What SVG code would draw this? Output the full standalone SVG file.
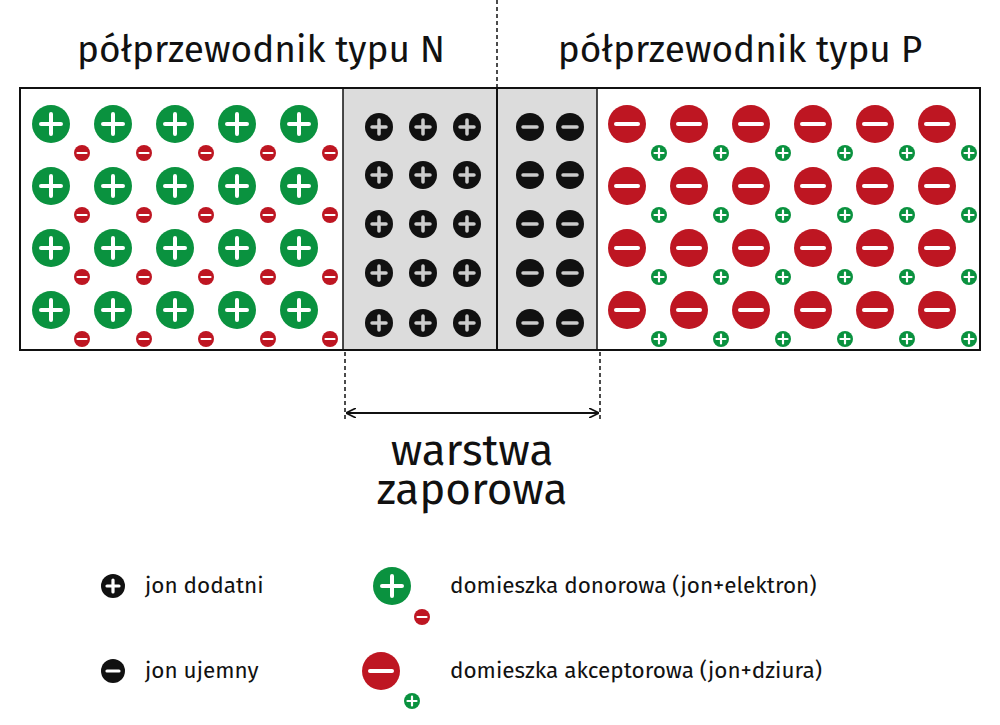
<svg xmlns="http://www.w3.org/2000/svg" xmlns:xlink="http://www.w3.org/1999/xlink" width="1000" height="725" viewBox="0 0 1000 725">
<style>
text{font-family:"Fira Sans","Noto Sans","Open Sans",sans-serif;fill:#111}
.t{font-size:37px}.w{font-size:44px}.l{font-size:22.5px}
.d{stroke:#111;stroke-width:1.5;stroke-dasharray:4 3;fill:none}
</style>
<defs>
<g id="gp"><circle r="19" fill="#0a923f"/><path d="M-10 0H10M0 -10V10" stroke="#fff" stroke-width="4" stroke-linecap="round"/></g>
<g id="rm"><circle r="19" fill="#be1622"/><path d="M-11 0H11" stroke="#fff" stroke-width="4" stroke-linecap="round"/></g>
<g id="sr"><circle r="8" fill="#be1622"/><path d="M-4.5 0H4.5" stroke="#fff" stroke-width="2.2" stroke-linecap="round"/></g>
<g id="sg"><circle r="8" fill="#0a923f"/><path d="M-4.5 0H4.5M0 -4.5V4.5" stroke="#fff" stroke-width="2.2" stroke-linecap="round"/></g>
<g id="bp"><circle r="14" fill="#111"/><path d="M-7 0H7M0 -7V7" stroke="#ccc" stroke-width="3.5" stroke-linecap="round"/></g>
<g id="bm"><circle r="14" fill="#111"/><path d="M-7 0H7" stroke="#ccc" stroke-width="3.5" stroke-linecap="round"/></g>
<g id="bpl"><circle r="12" fill="#111"/><path d="M-6 0H6M0 -6V6" stroke="#fff" stroke-width="3.2" stroke-linecap="round"/></g>
<g id="bml"><circle r="12" fill="#111"/><path d="M-6 0H6" stroke="#fff" stroke-width="3.2" stroke-linecap="round"/></g>
<g id="nrow"><use href="#gp" x="51"/><use href="#gp" x="113"/><use href="#gp" x="175"/><use href="#gp" x="237"/><use href="#gp" x="299"/>
<use href="#sr" x="82" y="29"/><use href="#sr" x="144" y="29"/><use href="#sr" x="206" y="29"/><use href="#sr" x="268" y="29"/><use href="#sr" x="330" y="29"/></g>
<g id="prow"><use href="#rm" x="627"/><use href="#rm" x="689"/><use href="#rm" x="751"/><use href="#rm" x="813"/><use href="#rm" x="875"/><use href="#rm" x="937"/>
<use href="#sg" x="659" y="29"/><use href="#sg" x="721" y="29"/><use href="#sg" x="783" y="29"/><use href="#sg" x="845" y="29"/><use href="#sg" x="907" y="29"/><use href="#sg" x="969" y="29"/></g>
<g id="jrow"><use href="#bp" x="379"/><use href="#bp" x="423"/><use href="#bp" x="467"/><use href="#bm" x="530"/><use href="#bm" x="570"/></g>
<marker id="ar" viewBox="0 0 10 10" refX="9" refY="5" markerWidth="10" markerHeight="10" markerUnits="userSpaceOnUse" orient="auto-start-reverse"><path d="M0 0L10 5L0 10" fill="none" stroke="#111" stroke-width="1.6"/></marker>
</defs>
<rect width="1000" height="725" fill="#fff"/>
<g id="titles">
<text class="t" x="261" y="62" text-anchor="middle">półprzewodnik typu N</text>
<text class="t" x="740" y="62" text-anchor="middle">półprzewodnik typu P</text>
</g>
<g id="zone"><rect x="343" y="88" width="254" height="262" fill="#dcdcdc"/></g>
<g id="n-region"><use href="#nrow" y="124"/><use href="#nrow" y="186"/><use href="#nrow" y="248"/><use href="#nrow" y="310"/></g>
<g id="p-region"><use href="#prow" y="124"/><use href="#prow" y="186"/><use href="#prow" y="248"/><use href="#prow" y="310"/></g>
<g id="ions"><use href="#jrow" y="127"/><use href="#jrow" y="175"/><use href="#jrow" y="224"/><use href="#jrow" y="273"/><use href="#jrow" y="323"/></g>
<g id="frame" fill="none" stroke="#111" stroke-width="2">
<rect x="20" y="88" width="960" height="262"/>
<path d="M343 88V350M597 88V350" stroke-width="1.5"/>
<path d="M497 88V350" stroke-width="2"/>
</g>
<g id="connectors">
<path class="d" d="M497 0V88"/>
<path class="d" d="M345 352V420M600 352V420"/>
<path d="M347 413H598" stroke="#111" stroke-width="2" fill="none" marker-start="url(#ar)" marker-end="url(#ar)"/>
</g>
<g id="label">
<text class="w" x="472" y="465" text-anchor="middle">warstwa</text>
<text class="w" x="472" y="504" text-anchor="middle">zaporowa</text>
</g>
<g id="legend">
<use href="#bpl" x="113" y="586"/><text class="l" x="145" y="593">jon dodatni</text>
<use href="#gp" x="392" y="586"/><use href="#sr" x="422" y="617"/><text class="l" x="450" y="593">domieszka donorowa (jon+elektron)</text>
<use href="#bml" x="113" y="671"/><text class="l" x="145" y="678">jon ujemny</text>
<use href="#rm" x="381" y="671"/><use href="#sg" x="412" y="701"/><text class="l" x="450" y="678">domieszka akceptorowa (jon+dziura)</text>
</g>
</svg>
